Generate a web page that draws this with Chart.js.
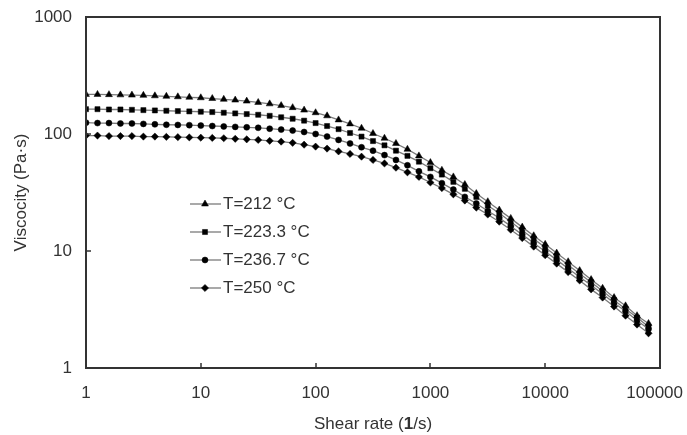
<!DOCTYPE html>
<html lang="en">
<head>
<meta charset="UTF-8">
<title>Viscosity vs shear rate</title>
<script src="https://cdn.jsdelivr.net/npm/chart.js"></script>
<style>
  body { margin: 0; background: #fff; }
  #wrap { width: 687px; height: 435px; }
</style>
</head>
<body>
<div id="wrap"><canvas id="grafico" width="687" height="435"></canvas></div>
<script>
// shear rate (1/s), 10 points per decade
const shearRate = [1, 1.259, 1.585, 1.995, 2.512, 3.162, 3.981, 5.012, 6.31, 7.943,
  10, 12.59, 15.85, 19.95, 25.12, 31.62, 39.81, 50.12, 63.1, 79.43,
  100, 125.9, 158.5, 199.5, 251.2, 316.2, 398.1, 501.2, 631, 794.3,
  1000, 1259, 1585, 1995, 2512, 3162, 3981, 5012, 6310, 7943,
  10000, 12589, 15849, 19953, 25119, 31623, 39811, 50119, 63096, 79433];

// viscosity (Pa·s)
const visc212 = [218, 218, 217, 216, 215, 214, 212, 210, 208, 206,
  204, 201, 198, 195, 191, 186, 181, 175, 168, 160,
  152, 143, 132, 122, 112, 101, 92, 83, 74, 65,
  57, 49, 43, 37, 31, 26.4, 22.4, 19.0, 16.0, 13.5,
  11.4, 9.6, 8.1, 6.8, 5.7, 4.8, 4.0, 3.4, 2.8, 2.4];
const visc223 = [163, 163, 162, 162, 161, 160, 159, 158, 157, 156,
  155, 154, 152, 150, 148, 146, 143, 139, 135, 130,
  124, 117, 110, 102, 95, 87, 80, 72, 65, 58,
  51, 45, 39, 34, 29, 24.5, 21.0, 17.8, 15.0, 12.7,
  10.7, 9.0, 7.6, 6.4, 5.4, 4.55, 3.8, 3.2, 2.7, 2.25];
const visc236 = [125, 124, 124, 123, 123, 122, 121, 120, 119.5, 119,
  118, 117, 116, 115, 114, 113, 111, 109, 107, 104,
  100, 95, 89, 83, 77, 72, 66, 60, 54, 48,
  43, 38, 33.5, 29, 25.5, 22, 19.2, 16.3, 13.8, 11.7,
  9.9, 8.4, 7.1, 6.0, 5.1, 4.3, 3.6, 3.05, 2.55, 2.15];
const visc250 = [97, 97, 96, 96, 96, 95, 95, 94.5, 94, 93.5,
  93, 92.5, 92, 91, 90, 89, 87.5, 86, 84, 81,
  78, 75, 71, 67.5, 64, 60, 56, 51.5, 47, 43,
  38.5, 34.5, 30.5, 27, 23.5, 20.5, 17.8, 15.2, 12.9, 10.9,
  9.2, 7.8, 6.6, 5.6, 4.7, 4.0, 3.35, 2.8, 2.35, 1.98];

const legendas = ['T=212 °C', 'T=223.3 °C', 'T=236.7 °C', 'T=250 °C'];
const marcadores = ['triangle', 'rect', 'circle', 'rectRot'];
const tamanhos = [4, 3.6, 3, 3.6];
const xTicks = [1, 10, 100, 1000, 10000, 100000];
const yTicks = [1, 10, 100, 1000];

const FONTE = '"Liberation Sans", Arial, sans-serif';
const COR_TEXTO = '#333';

function serie(valores, i) {
  return {
    label: legendas[i],
    data: shearRate.map((x, j) => ({ x: x, y: valores[j] })),
    borderColor: '#7a7a7a',
    borderWidth: 1.3,
    pointStyle: marcadores[i],
    pointRadius: tamanhos[i],
    pointBackgroundColor: '#000',
    pointBorderColor: '#000',
    pointBorderWidth: 0.5,
    tension: 0
  };
}

// moldura, ticks para dentro, rótulos do eixo x, títulos e legenda dentro do gráfico
const extras = {
  id: 'extras',
  afterDraw(chart) {
    const ctx = chart.ctx;
    const a = chart.chartArea;
    const sx = chart.scales.x, sy = chart.scales.y;
    ctx.save();
    ctx.strokeStyle = '#333';
    ctx.lineWidth = 2;
    ctx.strokeRect(a.left, a.top, a.right - a.left, a.bottom - a.top);

    ctx.lineWidth = 1.5;
    ctx.beginPath();
    xTicks.slice(1, -1).forEach(v => {
      const px = Math.round(sx.getPixelForValue(v));
      ctx.moveTo(px, a.bottom);
      ctx.lineTo(px, a.bottom - 5);
    });
    yTicks.slice(1, -1).forEach(v => {
      const py = Math.round(sy.getPixelForValue(v));
      ctx.moveTo(a.left, py);
      ctx.lineTo(a.left + 5, py);
    });
    ctx.stroke();

    // rótulos do eixo x (o último é puxado para dentro da janela, como no original)
    ctx.fillStyle = COR_TEXTO;
    ctx.textBaseline = 'middle';
    ctx.textAlign = 'center';
    ctx.font = '17px ' + FONTE;
    xTicks.forEach(v => {
      const txt = String(v);
      const w = ctx.measureText(txt).width;
      let px = sx.getPixelForValue(v);
      px = Math.min(px, chart.width - 4 - w / 2);
      ctx.fillText(txt, px, a.bottom + 25);
    });

    // eixo x: "Shear rate (1/s)" com o 1 em negrito
    const partes = [['Shear rate (', 'normal'], ['1', 'bold'], ['/s)', 'normal']];
    let total = 0;
    partes.forEach(p => { ctx.font = p[1] + ' 17px ' + FONTE; total += ctx.measureText(p[0]).width; });
    let x = (a.left + a.right) / 2 - total / 2;
    ctx.textAlign = 'left';
    partes.forEach(p => {
      ctx.font = p[1] + ' 17px ' + FONTE;
      ctx.fillText(p[0], x, 424);
      x += ctx.measureText(p[0]).width;
    });

    // eixo y
    ctx.save();
    ctx.translate(21, (a.top + a.bottom) / 2);
    ctx.rotate(-Math.PI / 2);
    ctx.textAlign = 'center';
    ctx.font = '17px ' + FONTE;
    ctx.fillText('Viscocity (Pa·s)', 0, 0);
    ctx.restore();

    // legenda
    chart.data.datasets.forEach((ds, i) => {
      const ly = a.top + 187 + i * 28;
      const lx = a.left + 104;
      ctx.strokeStyle = '#7a7a7a';
      ctx.lineWidth = 1.3;
      ctx.beginPath();
      ctx.moveTo(lx, ly);
      ctx.lineTo(lx + 31, ly);
      ctx.stroke();
      ctx.fillStyle = '#000';
      ctx.strokeStyle = '#000';
      ctx.lineWidth = 0.5;
      Chart.helpers.drawPoint(ctx, { pointStyle: ds.pointStyle, radius: ds.pointRadius, rotation: 0, borderWidth: 0.5 }, lx + 15, ly);
      ctx.fillStyle = COR_TEXTO;
      ctx.font = '17px ' + FONTE;
      ctx.textAlign = 'left';
      ctx.fillText(ds.label, lx + 33, ly);
    });
    ctx.restore();
  }
};

const config = {
  type: 'line',
  data: {
    datasets: [serie(visc212, 0), serie(visc223, 1), serie(visc236, 2), serie(visc250, 3)]
  },
  options: {
    responsive: false,
    animation: false,
    layout: { padding: { left: 0, right: 27, top: 17, bottom: 0 } },
    plugins: { legend: { display: false }, tooltip: { enabled: false } },
    scales: {
      x: {
        type: 'logarithmic',
        min: 1,
        max: 100000,
        afterBuildTicks: s => { s.ticks = xTicks.map(v => ({ value: v })); },
        afterFit: s => { s.height = 67; s.paddingLeft = 0; s.paddingRight = 0; },
        grid: { display: false, drawTicks: false },
        border: { display: false },
        ticks: { display: false }
      },
      y: {
        type: 'logarithmic',
        min: 1,
        max: 1000,
        afterBuildTicks: s => { s.ticks = yTicks.map(v => ({ value: v })); },
        afterFit: s => { s.width = 86; s.paddingTop = 0; s.paddingBottom = 0; },
        grid: { display: false, drawTicks: false },
        border: { display: false },
        ticks: {
          padding: 14,
          color: COR_TEXTO,
          font: { size: 17, family: FONTE },
          autoSkip: false,
          callback: v => String(v)
        }
      }
    }
  },
  plugins: [extras]
};

new Chart(document.getElementById('grafico'), config);
</script>
</body>
</html>
